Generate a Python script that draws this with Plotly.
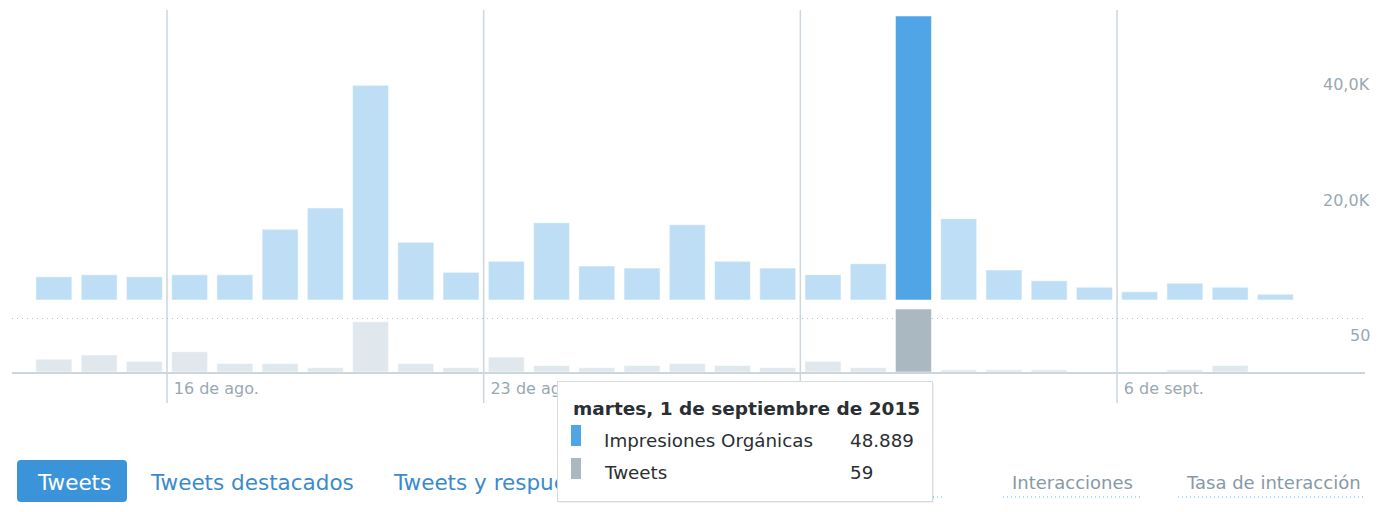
import plotly.graph_objects as go
from datetime import datetime, timedelta, date

# ---------------- data ----------------
fechas = [
    "2015-08-13", "2015-08-14", "2015-08-15", "2015-08-16", "2015-08-17", "2015-08-18", "2015-08-19",
    "2015-08-20", "2015-08-21", "2015-08-22", "2015-08-23", "2015-08-24", "2015-08-25", "2015-08-26",
    "2015-08-27", "2015-08-28", "2015-08-29", "2015-08-30", "2015-08-31", "2015-09-01", "2015-09-02",
    "2015-09-03", "2015-09-04", "2015-09-05", "2015-09-06", "2015-09-07", "2015-09-08", "2015-09-09",
]
impresiones = [
    4000, 4350, 4000, 4350, 4350, 12170, 15840,
    36960, 9930, 4760, 6660, 13300, 5850, 5500,
    12960, 6660, 5500, 4360, 6250, 48889, 14000,
    5160, 3300, 2200, 1400, 2900, 2200, 1000,
]
tweets = [
    12, 16, 10, 19, 8, 8, 4,
    47, 8, 4, 14, 6, 4, 6,
    8, 6, 4, 10, 4, 59, 2,
    2, 2, 0, 0, 2, 6, 0,
]
destacado = "2015-09-01"

semanas = ["2015-08-16", "2015-08-23", "2015-08-30", "2015-09-06"]
semanas_txt = ["16 de ago.", "23 de ago.", "30 de ago.", "6 de sept."]
imp_ticks = [20000, 40000]
imp_txt = ["20,0K", "40,0K"]
tw_ticks = [50]
tw_txt = ["50"]

pestanas = ["Tweets", "Tweets destacados", "Tweets y respuestas"]
metricas = ["Interacciones", "Tasa de interacción"]
serie_imp = "Impresiones Orgánicas"
serie_tw = "Tweets"

dias = ["lunes", "martes", "miércoles", "jueves", "viernes", "sábado", "domingo"]
meses = ["enero", "febrero", "marzo", "abril", "mayo", "junio", "julio", "agosto",
         "septiembre", "octubre", "noviembre", "diciembre"]

# ---------------- styles / geometry (page pixels) ----------------
PAGE_W, PAGE_H = 1381, 512
OX, OY = 8, 8                                # page body margin
W, H = PAGE_W - OX, PAGE_H - 2 * OY          # avoid vertical overflow
PL, PR, PT, PB = 12, 1365, 10, 372          # plot area in page px
LABEL_R = 1372                               # right edge of the value labels
DAY_PX = 45.24
SUN_PX = 167                                 # px of 2015-08-16 00:00
IMP_ZERO = 300
IMP_PX = 284 / 48889
TW_PX = 63 / 59

C_IMP, C_IMP_HI = "#bedef6", "#50a5e6"
C_TW, C_TW_HI = "#e1e8ed", "#aab8c2"
C_GRID = "#ccd6dd"
C_AX = "#99a8b3"
FONT = "DejaVu Sans"


def px(x):
    return (x - PL) / (PR - PL)


def py(y):
    return (PB - y) / (PB - PT)


sun = datetime(2015, 8, 16)
x0 = sun - timedelta(days=(SUN_PX - PL) / DAY_PX)
x1 = sun + timedelta(days=(PR - SUN_PX) / DAY_PX)

hi = fechas.index(destacado)
col_imp = [C_IMP_HI if i == hi else C_IMP for i in range(len(fechas))]
col_tw = [C_TW_HI if i == hi else C_TW for i in range(len(fechas))]

fig = go.Figure()
fig.add_trace(go.Bar(
    x=fechas, y=impresiones, xperiod=86400000, xperiodalignment="middle",
    marker=dict(color=col_imp, line=dict(color="rgba(255,255,255,0.55)", width=1)),
    name=serie_imp, yaxis="y", hoverinfo="skip",
))
fig.add_trace(go.Bar(
    x=fechas, y=tweets, xperiod=86400000, xperiodalignment="middle",
    marker=dict(color=col_tw, line=dict(color="rgba(255,255,255,0.55)", width=1)),
    name=serie_tw, yaxis="y2", hoverinfo="skip",
))

tickfont = dict(family=FONT, size=16, color=C_AX)

fig.update_layout(
    width=W, height=H,
    margin=dict(l=PL - OX, r=OX + W - PR, t=PT - OY, b=OY + H - PB),
    paper_bgcolor="white", plot_bgcolor="white",
    showlegend=False, barmode="overlay", bargap=0.204,
    xaxis=dict(
        type="date", range=[x0, x1], tickvals=semanas, ticktext=semanas_txt,
        ticklabelposition="outside right", ticklabelshift=6, ticklabelstandoff=1,
        ticks="", showgrid=False,
        showline=True, linecolor=C_GRID, linewidth=1.5, tickfont=tickfont,
        fixedrange=True,
    ),
    yaxis=dict(
        range=[-(PB - IMP_ZERO) / IMP_PX, (IMP_ZERO - PT) / IMP_PX],
        side="right", tickvals=imp_ticks, showticklabels=False,
        showgrid=False, zeroline=False, showline=False, fixedrange=True,
    ),
    yaxis2=dict(
        range=[0, (PB - PT) / TW_PX], overlaying="y", side="right",
        tickvals=tw_ticks, showticklabels=False,
        showgrid=True, gridcolor="#b9c4cc", gridwidth=1.3, griddash="1px,4px",
        zeroline=False, showline=False, fixedrange=True,
    ),
)

shapes = []
for s in semanas:
    shapes.append(dict(type="line", xref="x", yref="paper", x0=s, x1=s,
                       y0=py(403), y1=1, line=dict(color=C_GRID, width=1.5), layer="below"))

# rounded active tab button
bx0, bx1, by0, by1, r = 17, 127, 460, 502, 4
rx = r / (PR - PL)
ry = r / (PB - PT)
X0, X1, Y0, Y1 = px(bx0), px(bx1), py(by1), py(by0)
path = (f"M {X0+rx},{Y0} L {X1-rx},{Y0} Q {X1},{Y0} {X1},{Y0+ry} L {X1},{Y1-ry} "
        f"Q {X1},{Y1} {X1-rx},{Y1} L {X0+rx},{Y1} Q {X0},{Y1} {X0},{Y1-ry} "
        f"L {X0},{Y0+ry} Q {X0},{Y0} {X0+rx},{Y0} Z")
shapes.append(dict(type="path", xref="paper", yref="paper", path=path,
                   fillcolor="#3b94d9", line=dict(width=0)))

# dotted underlines of the metric selectors
for a, b in [(821, 942), (1003, 1142), (1178, 1365)]:
    shapes.append(dict(type="line", xref="paper", yref="paper", x0=px(a), x1=px(b),
                       y0=py(497), y1=py(497),
                       line=dict(color="#93ccf3", width=1.5, dash="1px,3px")))
fig.update_layout(shapes=shapes)


def txt(s, x, y, size, color, xanchor="left", **kw):
    d = dict(text=s, xref="paper", yref="paper", x=px(x), y=py(y), xanchor=xanchor,
             yanchor="middle", showarrow=False,
             font=dict(family=FONT, size=size, color=color))
    d.update(kw)
    return d


def box(x, y, w, h, color, **kw):
    d = dict(text=" ", xref="paper", yref="paper", x=px(x), y=py(y), xanchor="left",
             yanchor="top", showarrow=False, width=w, height=h, bgcolor=color,
             borderpad=0, borderwidth=0, font=dict(size=1))
    d.update(kw)
    return d


ann = []
# y-axis value labels, placed on the axis scales just below each value line
for v, t in zip(imp_ticks, imp_txt):
    ann.append(dict(text=t, xref="paper", x=px(LABEL_R), xanchor="right", yref="y", y=v,
                    yanchor="middle", yshift=-17, showarrow=False, font=tickfont))
for v, t in zip(tw_ticks, tw_txt):
    ann.append(dict(text=t, xref="paper", x=px(LABEL_R), xanchor="right", yref="y2", y=v,
                    yanchor="middle", yshift=-17, showarrow=False, font=tickfont))

ann.append(txt(pestanas[0], 74, 482, 21.5, "white", xanchor="center"))
ann.append(txt(pestanas[1], 148, 482, 21.5, "#3b8bcc"))
ann.append(txt(pestanas[2], 391, 482, 21.5, "#3b8bcc"))
ann.append(txt(metricas[0], 1010, 482, 18, "#8899a6"))
ann.append(txt(metricas[1], 1184, 482, 18, "#8899a6"))

# tooltip
d = date.fromisoformat(destacado)
titulo = f"{dias[d.weekday()]}, {d.day} de {meses[d.month - 1]} de {d.year}"
v_imp = f"{impresiones[hi]:,}".replace(",", ".")
v_tw = f"{tweets[hi]:,}".replace(",", ".")

ann.append(box(559, 383, 375, 120, "rgba(0,0,0,0.06)"))
ann.append(box(557, 381, 374, 119, "white", bordercolor="#d3dbe1", borderwidth=1))
ann.append(txt(f"<b>{titulo}</b>", 571, 409, 18.5, "#292f33"))
ann.append(box(571, 425, 10, 21, C_IMP_HI))
ann.append(txt(serie_imp, 602, 440, 18.3, "#292f33"))
ann.append(txt(v_imp, 848, 440, 18.3, "#292f33"))
ann.append(box(571, 458, 10, 21, C_TW_HI))
ann.append(txt(serie_tw, 602, 472, 18.3, "#292f33"))
ann.append(txt(v_tw, 848, 472, 18.3, "#292f33"))
fig.update_layout(annotations=ann)

fig.write_html("out.html")
